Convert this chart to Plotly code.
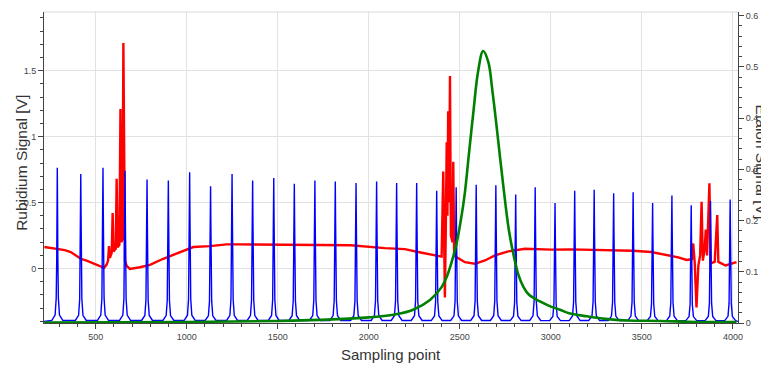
import plotly.graph_objects as go

# ---------------- data ----------------
# Rubidium signal (left axis, V)
rb_x = [218, 260, 289, 330, 363, 400, 418, 450, 491, 520, 546, 560, 568, 573, 578, 588, 593, 598,
        610, 615, 620, 630, 636, 641, 647, 652, 657, 661, 670, 688, 743, 798, 871, 963, 1036,
        1128, 1219, 1292, 1500, 1700, 1900, 2088, 2198, 2271, 2363, 2400, 2409, 2413, 2418,
        2423, 2428, 2432, 2436, 2441, 2446, 2451, 2460, 2464, 2469, 2483, 2528, 2583, 2638,
        2693, 2766, 2858, 3004, 3104, 3300, 3450, 3550, 3650, 3700, 3746, 3775, 3782, 3790,
        3800, 3810, 3820, 3828, 3835, 3845, 3851, 3858, 3871, 3878, 3900, 3914, 3920, 3960, 4020]
rb_y = [0.163, 0.155, 0.150, 0.140, 0.125, 0.090, 0.074, 0.060, 0.036, 0.015, 0.005, 0.030, 0.060,
        0.170, 0.080, 0.120, 0.420, 0.130, 0.150, 0.680, 0.160, 0.180, 1.210, 0.200, 0.220, 1.710,
        0.300, 0.060, 0.020, -0.003, 0.010, 0.028, 0.074, 0.125, 0.163, 0.170, 0.183, 0.183,
        0.180, 0.178, 0.176, 0.155, 0.147, 0.125, 0.099, 0.090, 0.735, 0.100, -0.219, 0.300,
        0.957, 0.400, 1.193, 0.500, 1.460, 0.250, 0.200, 0.810, 0.100, 0.086, 0.048, 0.036,
        0.061, 0.099, 0.130, 0.150, 0.143, 0.145, 0.140, 0.135, 0.125, 0.100, 0.085, 0.065,
        0.070, 0.190, 0.050, -0.295, 0.020, 0.100, 0.506, 0.060, 0.150, 0.295, 0.100, 0.647,
        0.040, 0.050, 0.405, 0.050, 0.023, 0.048]

# Etalon transmission peaks (right axis, V): positions and heights
et_pos = [289, 418, 540, 661, 782, 899, 1016, 1131, 1249, 1362, 1478, 1591, 1704, 1816, 1930,
          2043, 2153, 2263, 2373, 2480, 2590, 2698, 2807, 2914, 3023, 3131, 3238, 3345, 3452,
          3559, 3665, 3771, 3877, 3985]
et_h = [0.303, 0.291, 0.303, 0.297, 0.280, 0.278, 0.294, 0.267, 0.291, 0.278, 0.283, 0.272,
        0.278, 0.276, 0.273, 0.276, 0.273, 0.273, 0.258, 0.265, 0.270, 0.269, 0.251, 0.265,
        0.234, 0.258, 0.260, 0.253, 0.255, 0.234, 0.249, 0.230, 0.238, 0.241]
et_base = 0.003

# Broad transmission curve (right axis, V)
gr_x = [218, 1000, 1500, 1800, 2000, 2150, 2244, 2336, 2400, 2428, 2460, 2482, 2510, 2528, 2550,
        2574, 2600, 2628, 2656, 2680, 2700, 2738, 2770, 2800, 2821, 2850, 2880, 2940, 3000,
        3050, 3100, 3200, 3300, 3420, 3600, 3800, 4020]
gr_y = [0.001, 0.002, 0.004, 0.007, 0.011, 0.017, 0.026, 0.045, 0.070, 0.090, 0.125, 0.155,
        0.210, 0.255, 0.330, 0.410, 0.490, 0.531, 0.510, 0.450, 0.390, 0.270, 0.180, 0.125,
        0.095, 0.070, 0.055, 0.042, 0.032, 0.026, 0.019, 0.013, 0.008, 0.005, 0.004, 0.002,
        0.002]

x_ticks = [500, 1000, 1500, 2000, 2500, 3000, 3500, 4000]

# ---------------- peak line shape (style only) ----------------
P_DX = [-30, -12, -6, -3, -1.5, 0, 1.5, 3, 6, 12, 30]
P_F = [0.007, 0.042, 0.15, 0.41, 0.74, 1.0, 0.74, 0.41, 0.15, 0.042, 0.007]

bx, by = [216], [et_base]
for p, h in zip(et_pos, et_h):
    for dx, f in zip(P_DX, P_F):
        bx.append(p + dx)
        by.append(et_base + (h - et_base) * f)
bx.append(4028)
by.append(et_base)

fig = go.Figure()
fig.add_trace(go.Scatter(x=rb_x, y=rb_y, mode="lines", yaxis="y",
                         line=dict(color="rgb(255,0,0)", width=2.4), showlegend=False))
fig.add_trace(go.Scatter(x=bx, y=by, mode="lines", yaxis="y2",
                         line=dict(color="rgb(0,0,255)", width=1.4), showlegend=False))
fig.add_trace(go.Scatter(x=gr_x, y=gr_y, mode="lines", yaxis="y2", line_shape="spline",
                         line=dict(color="rgb(0,128,0)", width=2.6), showlegend=False))

tickfont = dict(family="Liberation Sans, Arial, sans-serif", size=9, color="#444")
axcol = "#444"
gridcol = "#e2e2e2"

# page body has an 8px default margin: the figure is sized so that it ends at the window edge
fig.update_layout(
    width=761, height=358,
    margin=dict(l=36, r=31, t=4, b=43.3),
    paper_bgcolor="white", plot_bgcolor="white",
    font=dict(family="Liberation Sans, Arial, sans-serif", color="#333"),
    xaxis=dict(range=[216, 4028], tickvals=x_ticks, showgrid=True, gridcolor=gridcol,
               gridwidth=1, zeroline=False, showline=True, linecolor=axcol, linewidth=1,
               ticks="outside", ticklen=5, tickcolor=axcol, tickfont=tickfont,
               minor=dict(dtick=100, tick0=0, ticks="outside", ticklen=3, tickcolor=axcol,
                          showgrid=False)),
    yaxis=dict(range=[-0.413, 1.945], tickvals=[0, 0.5, 1, 1.5], ticktext=["0", "0.5", "1", "1.5"],
               showgrid=True, gridcolor=gridcol, gridwidth=1, zeroline=False,
               showline=True, linecolor=axcol, linewidth=1, ticks="outside", ticklen=5,
               tickcolor=axcol, tickfont=tickfont,
               minor=dict(dtick=0.1, tick0=0, ticks="outside", ticklen=3, tickcolor=axcol,
                          showgrid=False)),
    yaxis2=dict(range=[0, 0.607], overlaying="y", side="right", dtick=0.1, tick0=0,
                showgrid=False, zeroline=False, showline=True, linecolor=axcol, linewidth=1,
                ticks="outside", ticklen=5, tickcolor=axcol, tickfont=tickfont,
                minor=dict(dtick=0.02, tick0=0, ticks="outside", ticklen=3, tickcolor=axcol,
                           showgrid=False)),
    shapes=[dict(type="line", xref="paper", yref="paper", x0=0, x1=1, y0=1, y1=1,
                 line=dict(color="#d8d8d8", width=1))],
    annotations=[
        dict(text="Rubidium Signal [V]", xref="paper", yref="paper", x=-0.0317, y=0.515,
             xanchor="center", yanchor="middle", textangle=-90, showarrow=False,
             font=dict(size=15.5, color="#333")),
        dict(text="Sampling point", xref="paper", yref="paper", x=0.5, y=-0.1007,
             xanchor="center", yanchor="middle", showarrow=False,
             font=dict(size=15, color="#333")),
        dict(text="Etalon Signal [V]", xref="paper", yref="paper", x=1.034, y=0.517,
             xanchor="center", yanchor="middle", textangle=90, showarrow=False,
             font=dict(size=15.5, color="#333")),
    ],
)

fig.write_html("out.html")
